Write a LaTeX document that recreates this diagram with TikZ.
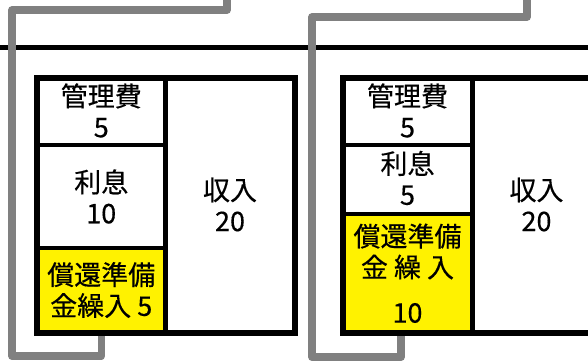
\documentclass[tikz,border=0pt]{standalone}
\usepackage{fontspec}
\setmainfont[FakeBold=0.4]{Noto Sans CJK JP}
\definecolor{conngray}{RGB}{128,128,128}
\begin{document}
\begin{tikzpicture}[x=1pt,y=-1pt,
  txt/.style={align=center, font=\fontsize{27}{31}\selectfont, inner sep=0pt},
  cellfill/.style={draw=none, inner sep=0pt},
  frame/.style={line width=6pt, line join=miter},
  divv/.style={line width=5pt},
  divh/.style={line width=4pt},
  topline/.style={line width=5pt},
  conn/.style={draw=conngray, line width=7.5pt, line join=round}]
\useasboundingbox (0,0) rectangle (588,361);
\fill[white] (0,0) rectangle (588,361);
% yellow cells
\node[cellfill, fill=yellow, minimum width=128.5pt, minimum height=85.5pt] (ly) at (101.25,290.25) {};
\node[cellfill, fill=yellow, minimum width=129pt, minimum height=119pt] (ry) at (407.5,273.5) {};
% texts left box
\node[txt] (lkanri) at (101.25,110.5) {管理費\\5};
\node[txt] (lrisoku) at (101.25,196.5) {利息\\10};
\node[txt] (lshokan) at (101.25,290) {償還準備\\金繰入 5};
\node[txt] (lshunyu) at (230,204.5) {収入\\20};
% texts right box
\node[txt] (rkanri) at (407.5,110.5) {管理費\\5};
\node[txt] (rrisoku) at (407.5,178) {利息\\5};
\node[txt] (rshokan) at (407.5,251.5) {償還準備\\金 繰 入};
\node[txt] (rnum) at (407.5,313) {10};
\node[txt] (rshunyu) at (536.5,204.5) {収入\\20};
% top black line
\coordinate (tl) at (-5,47.5);
\coordinate (tr) at (593,47.5);
\draw[topline] (tl) -- (tr);
% gray connectors
\coordinate (ltop) at (227,-6);
\coordinate (rtop) at (527,-6);
\draw[conn] (ly.south) -- ++(0,23) -| (12,10) -| (ltop);
\draw[conn] ([xshift=-6.5pt]ry.south) -- ++(0,24) -| (312,17) -| (rtop);
% left box frame
\draw[frame] (37,78) rectangle (295,333);
\draw[divv] (165.5,78) -- (165.5,333);
\draw[divh] (37,145) -- (165.5,145);
\draw[divh] (37,247.5) -- (165.5,247.5);
% right box frame
\draw[frame] (612,78) -| (343,333) -- (612,333);
\draw[divv] (472,78) -- (472,333);
\draw[divh] (343,145) -- (472,145);
\draw[divh] (343,214) -- (472,214);
\end{tikzpicture}
\end{document}
